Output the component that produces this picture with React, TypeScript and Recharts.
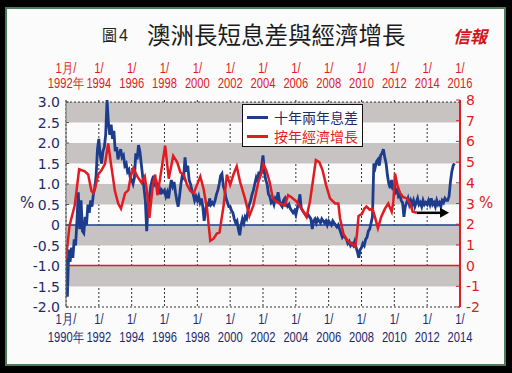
import { LineChart, Line, XAxis, YAxis, CartesianGrid, ReferenceArea, ReferenceLine, Legend } from "recharts";

const NAVY = "#1d3c8c";
const NAVY_TEXT = "#1f2a6b";
const RED = "#e11b22";
const BAND = "#c8c3c3";

// 十年兩年息差, monthly, Jan 1990 onwards (bottom axis)
const SPREAD_START = 1990;
const SPREAD = [
  -0.8, -1.75, -0.6, -0.9, -0.55, -0.8, -0.35, -0.5, 0.1, 0.8, -0.1, 0.6, // 1990
  -0.15, -0.2, 0.2, 0.0, 0.5, 0.3, 0.6, 0.45, 0.75, 0.9, 1.2, 1.85, // 1991
  2.1, 1.7, 1.5, 1.8, 1.9, 2.2, 3.05, 2.5, 2.2, 2.45, 2.1, 2.3, // 1992
  1.8, 1.9, 1.6, 1.75, 1.85, 1.65, 1.7, 1.45, 1.5, 1.3, 1.35, 1.15, // 1993
  1.1, 1.0, 1.15, 1.75, 1.6, 1.95, 1.8, 1.5, 1.2, 0.9, 0.6, -0.15, // 1994
  0.5, 0.7, 0.95, 1.1, 1.2, 1.0, 1.05, 0.85, 0.95, 0.75, 0.85, 0.8, // 1995
  0.85, 0.7, 0.8, 0.65, 0.9, 1.1, 0.95, 1.05, 0.8, 0.6, 0.45, 0.7, // 1996
  1.0, 1.2, 1.15, 1.65, 1.3, 1.45, 1.1, 1.0, 0.85, 0.75, 0.6, 0.7, // 1997
  0.6, 0.7, 0.55, 0.65, 0.45, 0.1, 0.35, 0.55, 0.45, 0.65, 0.5, 0.55, // 1998
  0.5, 0.6, 0.75, 0.85, 1.0, 1.2, 1.25, 0.95, 0.85, 0.65, 0.55, 0.45, // 1999
  0.45, 0.35, 0.3, 0.15, 0.05, 0.1, -0.1, -0.25, 0.0, 0.15, 0.05, 0.2, // 2000
  0.15, 0.35, 0.5, 0.6, 0.75, 0.85, 1.0, 1.15, 1.05, 1.3, 1.2, 1.45, // 2001
  1.7, 1.3, 1.1, 1.0, 0.75, 0.7, 0.55, 0.6, 0.5, 0.65, 0.6, 0.8, // 2002
  0.6, 0.5, 0.45, 0.6, 0.65, 0.5, 0.45, 0.5, 0.4, 0.35, 0.3, 0.35, // 2003
  0.25, 0.4, 0.55, 0.75, 0.4, 0.35, 0.3, 0.25, 0.2, 0.25, 0.2, 0.15, // 2004
  -0.1, 0.1, 0.15, 0.05, 0.15, 0.1, 0.05, 0.15, 0.1, 0.05, 0.1, 0.0, // 2005
  0.1, 0.05, 0.0, 0.1, 0.05, 0.0, -0.05, 0.0, -0.1, -0.2, -0.3, -0.25, // 2006
  -0.3, -0.35, -0.45, -0.4, -0.5, -0.45, -0.5, -0.4, -0.55, -0.65, -0.8, -0.6, // 2007
  -0.55, -0.45, -0.5, -0.35, -0.3, -0.15, -0.1, 0.05, 0.2, 1.5, 1.4, 1.55, // 2008
  1.6, 1.45, 1.7, 1.75, 1.85, 1.65, 1.5, 1.2, 1.0, 0.9, 1.1, 0.85, // 2009
  1.0, 0.8, 0.85, 0.7, 0.75, 0.6, 0.55, 0.2, 0.45, 0.55, 0.65, 0.5, // 2010
  0.6, 0.5, 0.6, 0.45, 0.55, 0.65, 0.5, 0.55, 0.45, 0.6, 0.5, 0.55, // 2011
  0.5, 0.6, 0.5, 0.65, 0.5, 0.55, 0.45, 0.6, 0.5, 0.55, 0.45, 0.6, // 2012
  0.55, 0.65, 0.6, 0.6, 0.7, 1.05, 1.3, 1.45, 1.5, // 2013
];

// 按年經濟增長, plotted on the top axis (2 years ahead)
const GDP_DATES = [
  1992.0, 1992.22, 1992.53, 1992.8, 1993.14, 1993.35, 1993.55, 1993.65, 1993.76, 1993.96,
  1994.16, 1994.37, 1994.57, 1994.78, 1994.98, 1995.18, 1995.35, 1995.6, 1995.8, 1995.94,
  1996.1, 1996.35, 1996.6, 1996.8, 1996.96, 1997.08, 1997.29, 1997.43, 1997.57, 1997.73,
  1998.04, 1998.26, 1998.53, 1998.77, 1998.97, 1999.17, 1999.37, 1999.58, 1999.78, 1999.98,
  2000.18, 2000.38, 2000.59, 2000.79, 2000.99, 2001.19, 2001.35, 2001.6, 2001.8, 2002.0,
  2002.2, 2002.4, 2002.6, 2002.9, 2003.17, 2003.41, 2003.72, 2003.92, 2004.02, 2004.2,
  2004.4, 2004.6, 2004.8, 2005.0, 2005.33, 2005.53, 2005.73, 2006.04, 2006.35, 2006.65,
  2006.86, 2007.06, 2007.22, 2007.43, 2007.63, 2007.84, 2008.08, 2008.39, 2008.59, 2008.69,
  2008.91, 2009.2, 2009.42, 2009.62, 2009.72, 2009.82, 2010.03, 2010.17, 2010.3, 2010.5,
  2010.67, 2010.8, 2011.0, 2011.2, 2011.43, 2011.63, 2011.84, 2011.94, 2012.04, 2012.18,
  2012.35, 2012.55, 2012.76, 2012.96, 2013.12, 2013.37,
];
const GDP_GROWTH = [
  0.35, 1.95, 2.9, 4.65, 4.55, 4.4, 3.6, 3.5, 3.7, 4.4,
  4.6, 4.9, 5.9, 4.7, 3.6, 3.0, 2.75, 3.5, 3.65, 4.3,
  4.7, 4.3, 4.0, 4.3, 3.4, 2.3, 3.9, 4.4, 3.4, 4.2,
  5.8, 4.2, 5.3, 5.0, 4.5, 4.4, 3.9, 3.6, 3.5, 3.9,
  4.3, 3.7, 2.75, 1.2, 1.3, 1.55, 1.6, 2.9, 4.4, 3.9,
  4.4, 4.8, 4.05, 3.25, 2.4, 2.9, 4.05, 4.5, 4.9, 4.6,
  4.05, 3.25, 3.1, 3.0, 2.9, 3.4, 3.3, 3.1, 2.75, 2.35,
  3.1, 4.2, 5.1, 5.0, 4.6, 3.9, 3.25, 3.0, 3.0, 2.3,
  1.5, 1.15, 1.05, 0.9, 1.5, 2.4, 2.5, 2.75, 2.85, 2.7,
  2.75, 2.4, 1.8, 2.35, 2.75, 3.0, 2.6, 3.1, 4.45, 3.9,
  3.5, 3.3, 3.25, 3.0, 2.6, 2.55,
];

const ARROW_DATES = [2013.37, 2015.15];
const ARROW_LEVEL = 2.55;

const BOTTOM_YEARS = [1990, 1992, 1994, 1996, 1998, 2000, 2002, 2004, 2006, 2008, 2010, 2012, 2014];
const TOP_YEARS = [1992, 1994, 1996, 1998, 2000, 2002, 2004, 2006, 2008, 2010, 2012, 2014, 2016];
const LEFT_TICKS = [-2, -1.5, -1, -0.5, 0, 0.5, 1, 1.5, 2, 2.5, 3];
const RIGHT_TICKS = [-2, -1, 0, 1, 2, 3, 4, 5, 6, 7, 8];
const GRAY_BANDS = [[2.5, 3], [1.5, 2], [0.5, 1], [-0.5, 0], [-1.5, -1]];

const LEGEND_ITEMS = [
  { label: "十年兩年息差", color: NAVY, text: NAVY_TEXT },
  { label: "按年經濟增長", color: RED, text: RED },
];

const spreadData = SPREAD.map((v, i) => ({ t: SPREAD_START + i / 12, v }));
const gdpData = GDP_DATES.map((t, i) => ({ t, r: GDP_GROWTH[i] }));
const arrowData = ARROW_DATES.map((t) => ({ t, r: ARROW_LEVEL }));

const sans = "'Liberation Sans', Arial, sans-serif";
const dejavu = "'DejaVu Sans', sans-serif";
const cjk = "'Noto Sans CJK TC', sans-serif";

// condensed year labels: Liberation Sans squeezed horizontally
function yearTick(color: string, top: boolean) {
  return ({ x, y, payload, index }: any) => {
    const first = index === 0;
    const l1 = top ? y - 31 : y + 13;
    const l2 = top ? y - 16 : y + 31;
    return (
      <g fill={color} fontFamily={sans} fontSize={14}>
        <text transform={`translate(${x},${l1}) scale(0.8,1)`} textAnchor="middle" dominantBaseline="central">
          {first ? "1月/" : "1/"}
        </text>
        <text transform={`translate(${x},${l2}) scale(0.8,1)`} textAnchor="middle" dominantBaseline="central">
          {first ? `${payload.value}年` : payload.value}
        </text>
      </g>
    );
  };
}

function LeftTick({ x, y, payload }: any) {
  const v = payload.value;
  const label = v === 0 ? "0" : v.toFixed(1);
  return (
    <g>
      <line x1={x} x2={x + 3} y1={y} y2={y} stroke="#555" />
      <text x={x - 6} y={y} textAnchor="end" dominantBaseline="central" fill={NAVY_TEXT} fontFamily={dejavu} fontSize={14}>
        {label}
      </text>
    </g>
  );
}

function RightTick({ x, y, payload }: any) {
  return (
    <g>
      <line x1={x - 4} x2={x} y1={y} y2={y} stroke={RED} />
      <text x={x + 6} y={y} textAnchor="start" dominantBaseline="central" fill={RED} fontFamily={dejavu} fontSize={14}>
        {payload.value}
      </text>
    </g>
  );
}

function ArrowHead(props: any) {
  const { cx, cy, index } = props;
  if (index !== ARROW_DATES.length - 1) return <g key={index} />;
  return <path key={index} d={`M${cx - 6},${cy - 5} L${cx + 3},${cy} L${cx - 6},${cy + 5} Z`} fill="#000" />;
}

function LegendBox() {
  return (
    <div style={{ width: 119, height: 41, border: "1.5px solid #111", background: "#fff", position: "relative" }}>
      {LEGEND_ITEMS.map((it, i) => (
        <div key={it.label} style={{ position: "absolute", left: 0, top: 3 + i * 19, height: 19, display: "flex", alignItems: "center" }}>
          <span style={{ display: "inline-block", width: 21, height: 3, background: it.color, marginLeft: 4, marginRight: 6 }} />
          <span style={{ color: it.text, fontFamily: cjk, fontSize: 14, lineHeight: "19px" }}>{it.label}</span>
        </div>
      ))}
    </div>
  );
}

export default function App() {
  return (
    <div style={{ position: "fixed", left: 0, top: 0, width: 512, height: 373, background: "#000" }}>
      <div style={{ position: "absolute", left: 5, top: 7, width: 501, height: 359, boxSizing: "border-box", border: "2px solid #4c7a5c", background: "#fbfbfb" }} />
      <div style={{ position: "absolute", left: 102, top: 24, fontFamily: cjk, fontSize: 15, color: "#222" }}>
        圖<span style={{ fontFamily: sans, fontSize: 16, marginLeft: 2 }}>4</span>
      </div>
      <div style={{ position: "absolute", left: 147, top: 17, fontFamily: cjk, fontSize: 23.5, color: "#1b1b1b", whiteSpace: "nowrap" }}>
        澳洲長短息差與經濟增長
      </div>
      <div style={{ position: "absolute", left: 453, top: 23, fontFamily: cjk, fontSize: 17, fontWeight: 700, color: "#d3141c", fontStyle: "italic" }}>
        信報
      </div>
      <div style={{ position: "absolute", left: 0, top: 0 }}>
        <LineChart width={512} height={373} margin={{ top: 60, right: 12, bottom: 26, left: 16 }}>
          <XAxis xAxisId="b" type="number" dataKey="t" domain={[1990, 2014]} ticks={BOTTOM_YEARS} interval={0}
            allowDataOverflow axisLine={false} tickLine={false} tickSize={0} tickMargin={0} height={40}
            tick={yearTick(NAVY_TEXT, false)} />
          <XAxis xAxisId="t" orientation="top" type="number" dataKey="t" domain={[1992, 2016]} ticks={TOP_YEARS} interval={0}
            allowDataOverflow axisLine={false} tickLine={false} tickSize={0} tickMargin={0} height={40}
            tick={yearTick(RED, true)} />
          <YAxis yAxisId="l" type="number" domain={[-2, 3]} ticks={LEFT_TICKS} interval={0} width={50}
            axisLine={{ stroke: "#666" }} tickLine={false} tickSize={0} tickMargin={0} tick={<LeftTick />} />
          <YAxis yAxisId="r" orientation="right" type="number" domain={[-2, 8]} ticks={RIGHT_TICKS} interval={0} width={40}
            axisLine={{ stroke: RED, strokeWidth: 2 }} tickLine={false} tickSize={0} tickMargin={0} tick={<RightTick />} />
          {GRAY_BANDS.map(([a, b]) => (
            <ReferenceArea key={a} xAxisId="b" yAxisId="l" y1={a} y2={b} fill={BAND} fillOpacity={1} stroke="none" />
          ))}
          <CartesianGrid xAxisId="b" yAxisId="l" horizontal={false} stroke="#333" strokeDasharray="2 2" />
          <ReferenceLine xAxisId="b" yAxisId="l" y={3} stroke="#333" strokeDasharray="2 2" />
          <ReferenceLine xAxisId="b" yAxisId="l" y={-2} stroke="#333" strokeDasharray="2 2" />
          <ReferenceLine xAxisId="b" yAxisId="l" y={0} stroke={NAVY} strokeWidth={1.5} />
          <ReferenceLine xAxisId="t" yAxisId="r" y={0} stroke={RED} strokeWidth={1.5} />
          <Line data={spreadData} dataKey="v" xAxisId="b" yAxisId="l" stroke={NAVY} strokeWidth={2.8}
            dot={false} isAnimationActive={false} />
          <Line data={gdpData} dataKey="r" xAxisId="t" yAxisId="r" stroke={RED} strokeWidth={2.5}
            dot={false} isAnimationActive={false} />
          <Line data={arrowData} dataKey="r" xAxisId="t" yAxisId="r" stroke="#000" strokeWidth={2.5}
            dot={<ArrowHead />} isAnimationActive={false} />
          <Legend layout="vertical" align="center" verticalAlign="middle"
            wrapperStyle={{ left: 242, top: 104, width: 122 }} content={() => <LegendBox />} />
        </LineChart>
      </div>
      <div style={{ position: "absolute", left: 20, top: 194, fontFamily: dejavu, fontSize: 15, color: NAVY_TEXT }}>%</div>
      <div style={{ position: "absolute", left: 479, top: 194, fontFamily: dejavu, fontSize: 15, color: RED }}>%</div>
    </div>
  );
}
